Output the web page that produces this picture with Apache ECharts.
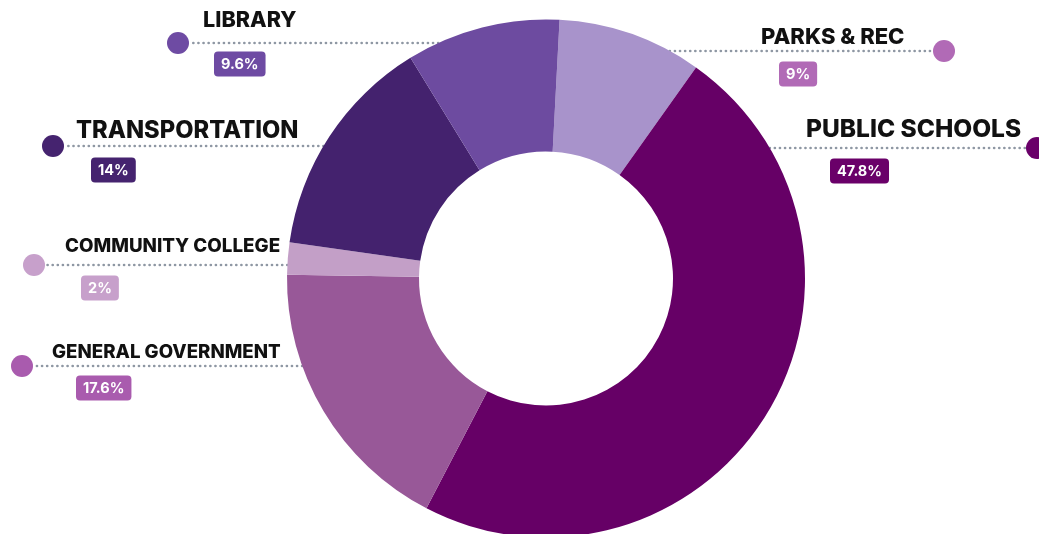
<!DOCTYPE html>
<html>
<head>
<meta charset="utf-8">
<script src="https://cdn.jsdelivr.net/npm/echarts@6/dist/echarts.min.js"></script>
<style>html,body{margin:0;padding:0;background:#fff}#c{width:1039px;height:534px}</style>
</head>
<body>
<div id="c"></div>
<script>
// ---- data ----
var categories = ['PARKS & REC', 'PUBLIC SCHOOLS', 'GENERAL GOVERNMENT', 'COMMUNITY COLLEGE', 'TRANSPORTATION', 'LIBRARY'];
var shares = [9, 47.8, 17.6, 2, 14, 9.6];

// ---- styles ----
var sliceColors = ['#A893CB', '#660066', '#985898', '#C39FC7', '#44226E', '#6D4BA0'];
var accentColors = ['#B16AB6', '#6A0069', '#A95BAE', '#C7A0CB', '#45236F', '#6E4BA3'];

// ---- layout (label placement) ----
var lineY   = [51, 148, 366, 265, 146, 43];
var dotX    = [944, 1037, 22, 34, 53, 178];
var titleX  = [761, 806, 52, 65, 76, 203];
var titleCY = [37, 130, 352, 246, 131, 20];
var badgeX  = [779, 830, 76, 81, 91, 214];
var badgeCY = [74, 171, 388, 288, 170, 64];
var titleSize = [22, 24.5, 18.7, 18.8, 23.7, 21.6];

var CX = 546, CY = 278.5, R_IN = 127, R_OUT = 259, DOT_R = 11, L1 = 26;

function fmt(v) { return v + '%'; }

var data = categories.map(function (name, i) {
  var rich = {};
  var L2 = 2 * (badgeCY[i] - titleCY[i] - L1 / 2);
  rich['t' + i] = { fontFamily: 'Inter', fontWeight: 800, fontSize: titleSize[i], color: '#111111', lineHeight: L1 };
  rich['s' + i] = { width: badgeX[i] - titleX[i], lineHeight: L2, fontSize: 10 };
  rich['b' + i] = {
    fontFamily: 'Inter', fontWeight: 700, fontSize: 14.5, color: '#ffffff',
    backgroundColor: accentColors[i], borderRadius: 4, padding: [5, 7, 4, 7], height: 16,
    lineHeight: L2
  };
  return {
    name: name,
    value: shares[i],
    itemStyle: { color: sliceColors[i] },
    label: {
      formatter: '{t' + i + '|' + name + '}\n{s' + i + '| }{b' + i + '|' + fmt(shares[i]) + '}',
      rich: rich
    }
  };
});

var graphics = categories.map(function (name, i) {
  return { type: 'circle', shape: { cx: dotX[i], cy: lineY[i], r: DOT_R }, style: { fill: accentColors[i] }, z: 10 };
});

var chart = echarts.init(document.getElementById('c'), null, { renderer: 'canvas' });
chart.setOption({
  animation: false,
  backgroundColor: '#ffffff',
  graphic: graphics,
  series: [{
    type: 'pie',
    center: [CX, CY],
    radius: [R_IN, R_OUT],
    startAngle: 87,
    clockwise: true,
    avoidLabelOverlap: false,
    data: data,
    label: { show: true, position: 'outside' },
    labelLine: { show: true, lineStyle: { color: '#8E97A3', width: 2.6, type: [0.1, 5], cap: 'round' } },
    labelLayout: function (p) {
      var i = p.dataIndex;
      var dy = lineY[i] - CY;
      var half = Math.sqrt(Math.max(R_OUT * R_OUT - dy * dy, 0));
      var left = dotX[i] < CX;
      var edgeX = left ? CX - half : CX + half;
      var endX = left ? dotX[i] + DOT_R : dotX[i] - DOT_R;
      return {
        x: titleX[i],
        y: titleCY[i] - L1 / 2,
        align: 'left',
        verticalAlign: 'top',
        labelLinePoints: [[edgeX, lineY[i]], [(edgeX + endX) / 2, lineY[i]], [endX, lineY[i]]]
      };
    }
  }]
});
</script>
</body>
</html>
